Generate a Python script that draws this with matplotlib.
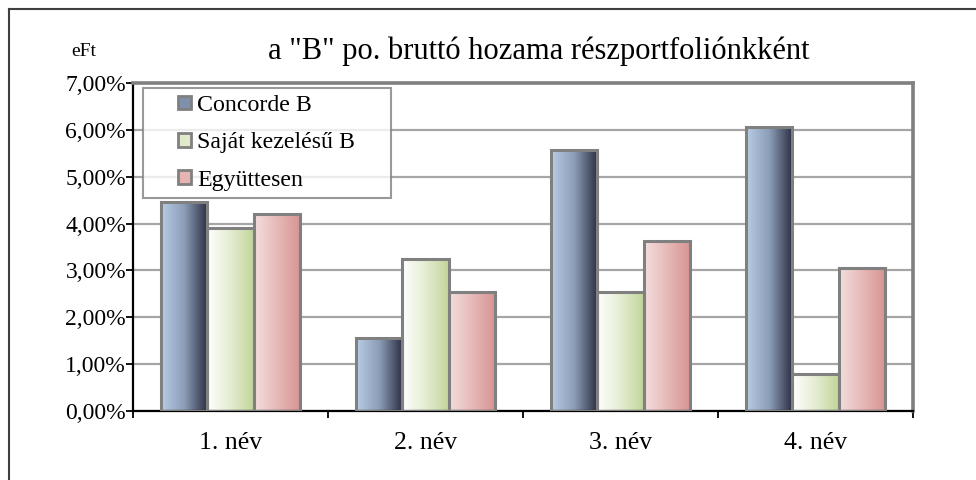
#!/usr/bin/env python3
"""Gross return of the "B" portfolio by sub-portfolio (Excel-style gradient bars)."""
import matplotlib
matplotlib.use("Agg")
import matplotlib.pyplot as plt
import numpy as np
from matplotlib.colors import LinearSegmentedColormap
from matplotlib.legend_handler import HandlerPatch
from matplotlib.lines import Line2D
from matplotlib.patches import Patch, Rectangle
from matplotlib.ticker import FuncFormatter, FixedLocator

categories = ["1. név", "2. név", "3. név", "4. név"]
series_names = ["Concorde B", "Saját kezelésű B", "Együttesen"]
concorde = [4.45, 1.56, 5.57, 6.06]
sajat = [3.90, 3.24, 2.54, 0.79]
egyutt = [4.21, 2.53, 3.63, 3.05]
title = 'a "B" po. bruttó hozama részportfoliónkként'
unit_label = "eFt"

series = [concorde, sajat, egyutt]
gradients = [
    ["#b9cde5", "#8c9db6", "#2a2d42"],
    ["#ffffff", "#e4edd2", "#c2d59a"],
    ["#f3dfde", "#e6b9b8", "#d79391"],
]
legend_colors = ["#7f90aa", "#e0eacb", "#e6b4b3"]

plt.rcParams["font.family"] = ["Liberation Serif", "DejaVu Serif"]


def square_right(legend, orig_handle, xdescent, ydescent, width, height, fontsize):
    # small square marker pushed to the right end of the handle box
    s = height
    return Rectangle((width - s - xdescent, -ydescent), s, s)


fig = plt.figure(figsize=(9.76, 4.8), dpi=100)
ax = fig.add_axes([133 / 976, 1 - 411 / 480, (913 - 133) / 976, (411 - 83) / 480])

n = len(series)
width = 1 / (n + 1.2)
x = np.arange(len(categories))
grad = np.linspace(0, 1, 256).reshape(1, -1)
for j, (vals, cols) in enumerate(zip(series, gradients)):
    cmap = LinearSegmentedColormap.from_list(f"g{j}", cols)
    offs = x + (j - (n - 1) / 2) * width
    bars = ax.bar(offs, vals, width, facecolor="none", edgecolor="#808080",
                  linewidth=2.2, zorder=3)
    for b in bars:
        x0, y0 = b.get_x(), b.get_y()
        im = ax.imshow(grad, cmap=cmap, aspect="auto", zorder=2.5,
                       extent=(x0, x0 + b.get_width(), y0, y0 + b.get_height()))
        im.set_clip_path(b)

ax.set_xlim(-0.5, len(categories) - 0.5)
ax.set_ylim(0, 7)

ax.yaxis.set_major_locator(FixedLocator(np.arange(0, 8, 1)))
ax.yaxis.set_major_formatter(FuncFormatter(lambda v, p: f"{v:.2f}%".replace(".", ",")))
ax.set_xticks(x)
ax.set_xticklabels(categories)
ax.xaxis.set_minor_locator(FixedLocator(np.arange(-0.5, len(categories), 1)))
ax.tick_params(axis="x", which="major", length=0, pad=15, labelsize=18.5)
ax.tick_params(axis="x", which="minor", length=5, width=1.3, color="black")
ax.tick_params(axis="y", length=5, width=1.3, color="black", pad=0, labelsize=17)

ax.grid(axis="y", color="#a6a6a6", linewidth=1.6, zorder=0)
ax.set_axisbelow(True)
for side in ("top", "right"):
    ax.spines[side].set_color("#808080")
    ax.spines[side].set_linewidth(2.6)
for side in ("left", "bottom"):
    ax.spines[side].set_color("black")
    ax.spines[side].set_linewidth(1.6)

handles = [Patch(facecolor=c, edgecolor="#808080", linewidth=2) for c in legend_colors]
leg_x0 = (143 - 133) / 780
leg_w = (391 - 143) / 780
leg_top = (411 - 88) / 328
leg_h = (194 - 88) / 328
leg = ax.legend(handles, series_names, loc="upper left", mode="expand",
                bbox_to_anchor=(leg_x0, leg_top - leg_h, leg_w, leg_h),
                fontsize=17.2, frameon=True, fancybox=False, edgecolor="#808080",
                handlelength=1.72, handleheight=0.5, handletextpad=0.25,
                labelspacing=0.68, borderpad=0.3, borderaxespad=0.0,
                handler_map={Patch: HandlerPatch(patch_func=square_right)})
leg.get_frame().set_linewidth(1.5)
leg.set_zorder(5)

fig.text(539 / 976, 1 - 51 / 480, title, ha="center", va="center", fontsize=22)
fig.text(84 / 976, 1 - 51 / 480, unit_label, ha="center", va="center", fontsize=14)

# outer chart frame (only the top and left edges are visible)
fig.add_artist(Line2D([9 / 976, 1], [1 - 9 / 480] * 2, color="#404040", linewidth=1.5))
fig.add_artist(Line2D([9 / 976] * 2, [0, 1 - 9 / 480], color="#404040", linewidth=1.5))

fig.savefig("out.png", dpi=100)
